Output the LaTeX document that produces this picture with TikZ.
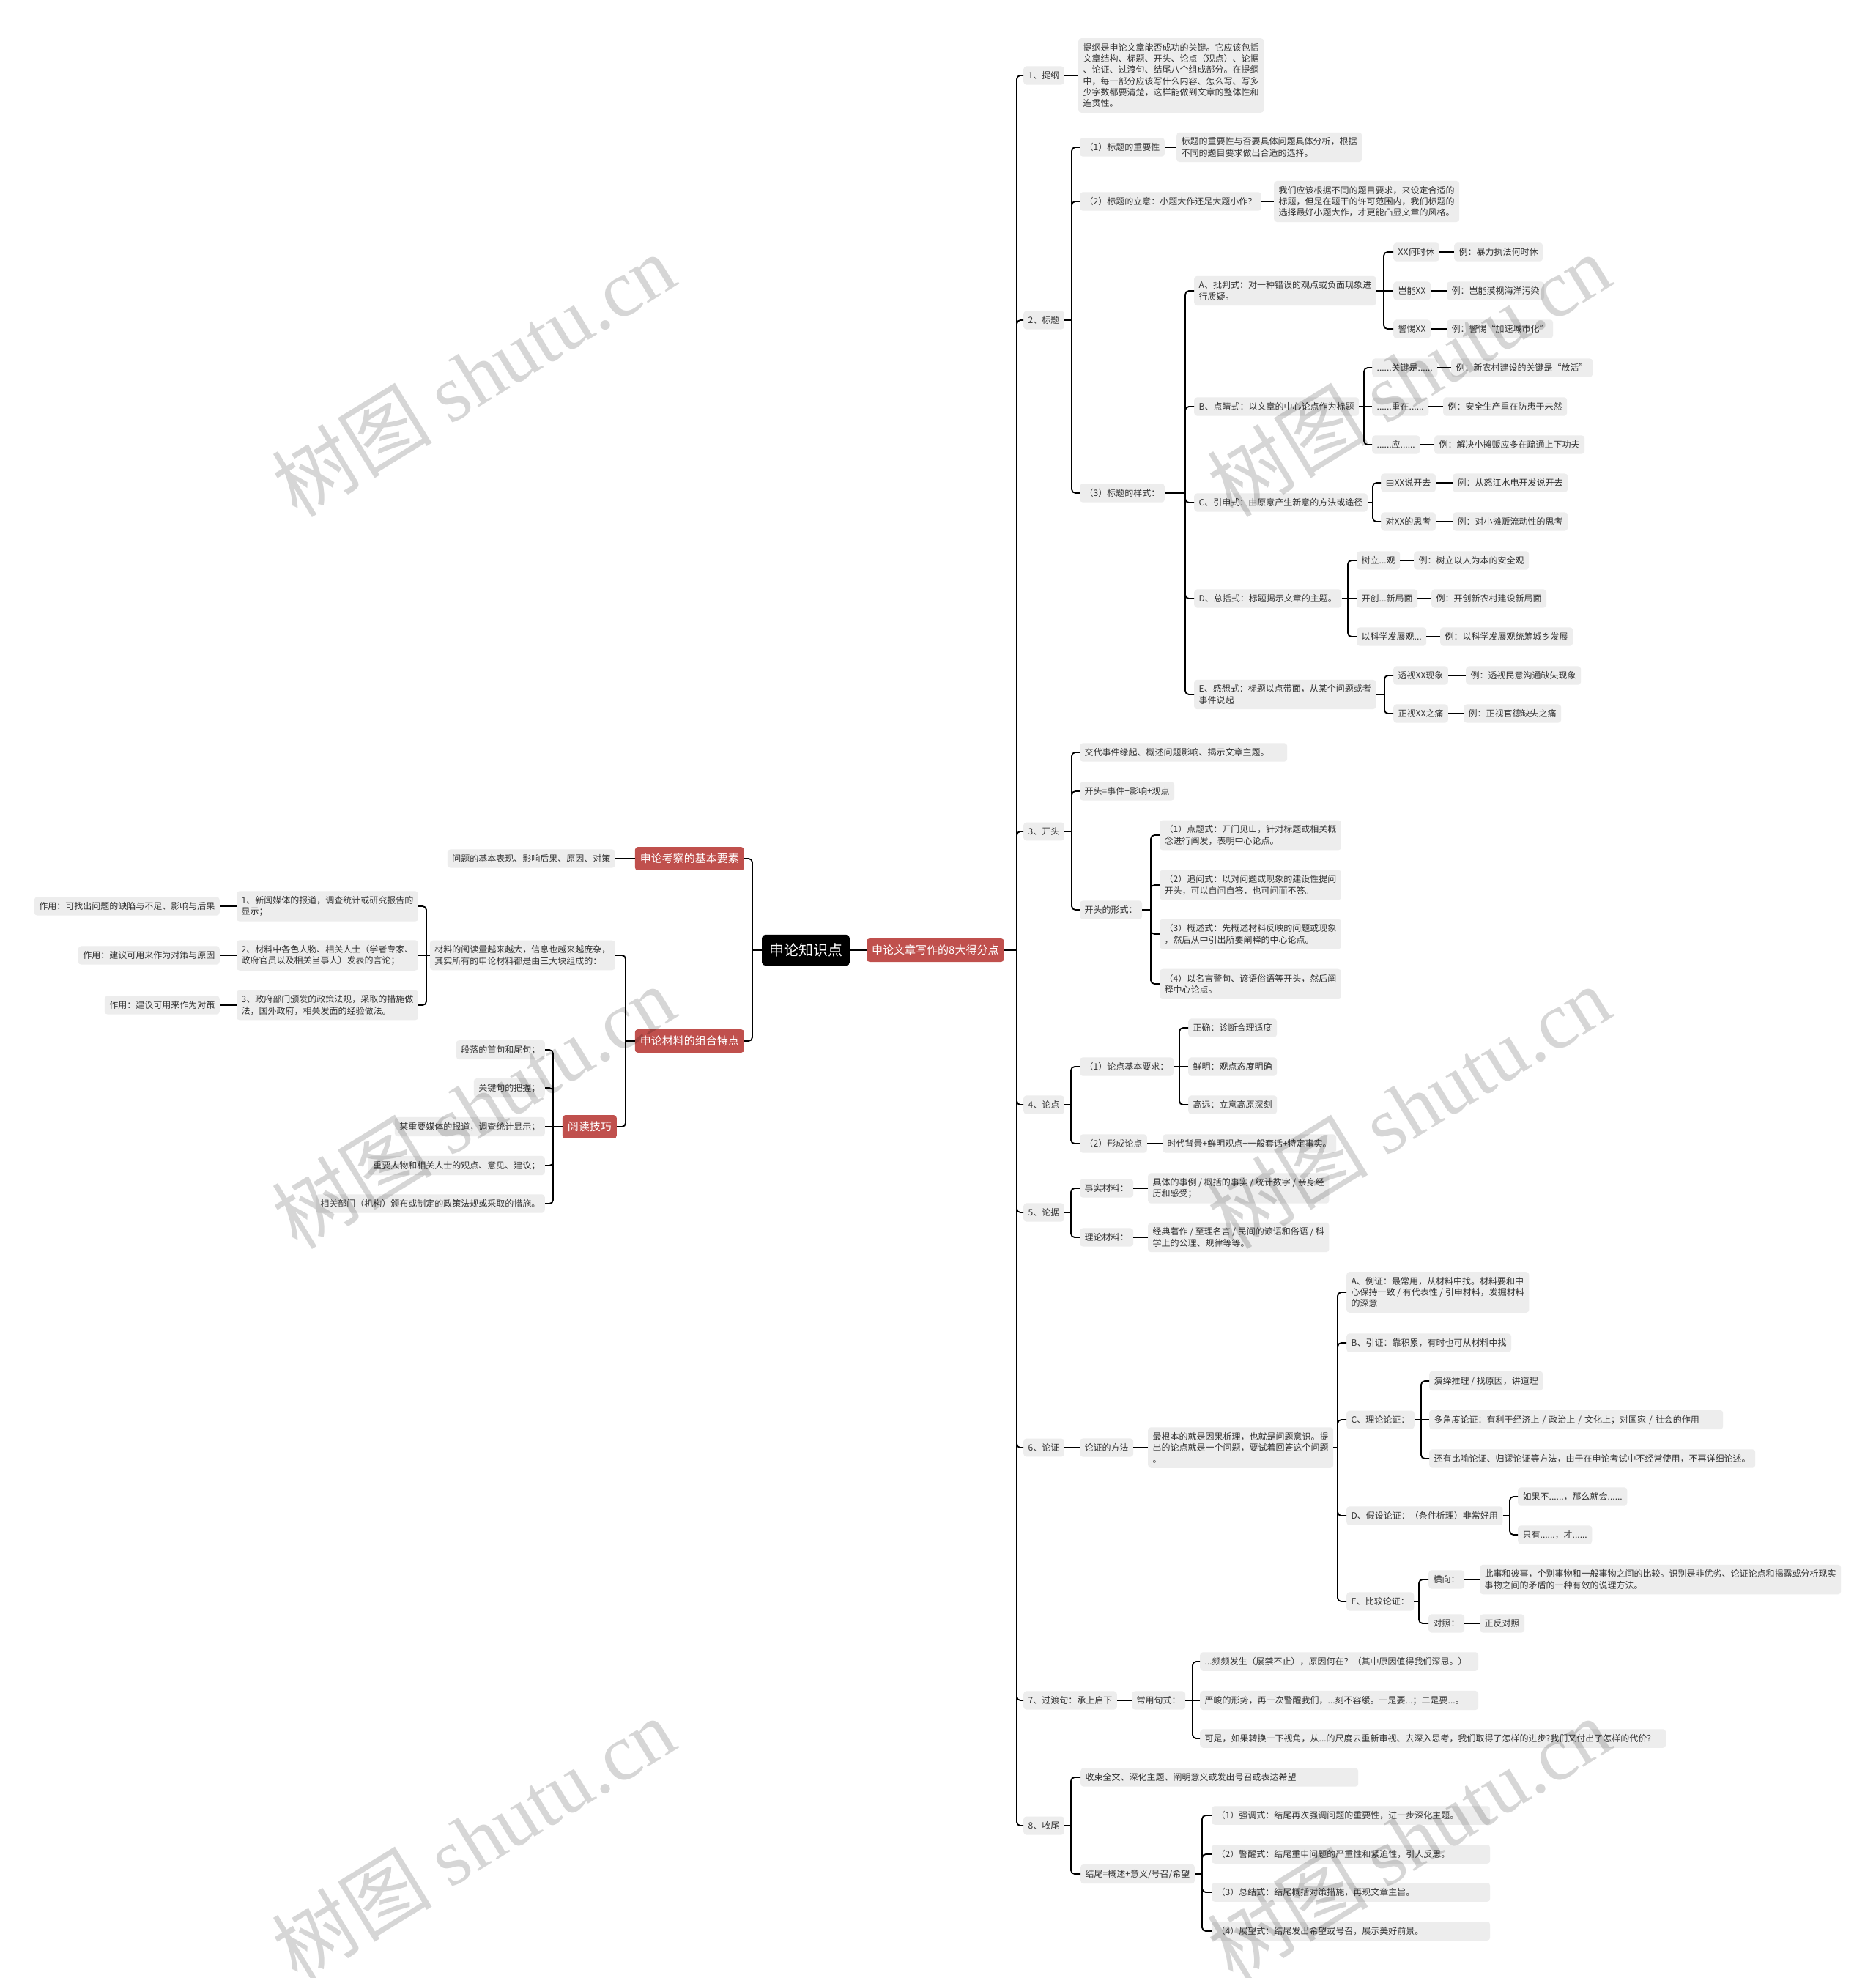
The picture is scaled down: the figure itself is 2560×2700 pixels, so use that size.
\documentclass[tikz,border=0pt]{standalone}
\usepackage{fontspec}
\setmainfont{Noto Sans CJK SC}
\newfontfamily\wmserif{Liberation Serif}
\definecolor{boxgray}{HTML}{EDEDED}
\definecolor{txt}{HTML}{333333}
\definecolor{mmred}{HTML}{C0504D}
\tikzset{
  box/.style={rectangle, rounded corners=4pt, fill=boxgray, text=txt, font=\fontsize{12}{15.3}\selectfont, inner xsep=6.5pt, inner ysep=7pt, align=left},
  bx/.style={box, anchor=west},
  bxl/.style={box, anchor=east},
  redbox/.style={rectangle, rounded corners=4pt, fill=mmred, text=white, font=\fontsize{15}{18}\selectfont, inner xsep=7pt, inner ysep=9pt},
  rootbox/.style={rectangle, rounded corners=5pt, fill=black, text=white, font=\fontsize{20}{24}\selectfont, inner xsep=10pt, inner ysep=12pt},
  conn/.style={draw=black, line width=1.8pt},
  wm/.style={text=black, opacity=0.16, font=\fontsize{110}{110}\selectfont, rotate=31.6}
}
\newcommand\stubR[2]{\coordinate (#1J) at (#2,0);\draw[conn] (#1.east) -- (#1.east -| #1J);}
\newcommand\kidR[2]{\draw[conn,rounded corners=5pt] (#1.east -| #1J) |- (#2.west);}
\newcommand\kidRs[2]{\draw[conn] (#1.east -| #1J) -- (#2.west);}
\newcommand\stubL[2]{\coordinate (#1J) at (#2,0);\draw[conn] (#1.west) -- (#1.west -| #1J);}
\newcommand\kidL[2]{\draw[conn,rounded corners=5pt] (#1.west -| #1J) |- (#2.east);}
\newcommand\kidLs[2]{\draw[conn] (#1.west -| #1J) -- (#2.east);}
\newcommand\mmlink[2]{\draw[conn] (#1.east) -- (#2.west);}
\newcommand\mmlinkL[2]{\draw[conn] (#1.west) -- (#2.east);}
\begin{document}
\begin{tikzpicture}[x=1pt,y=-1pt]
\useasboundingbox[fill=white] (0,0) rectangle (2560,2700);

% ---------- centre ----------
\node[rootbox] (C) at (1100,1297) {申论知识点};
\node[redbox, anchor=west] (R8) at (1183,1297) {申论文章写作的8大得分点};
\node[redbox, anchor=east] (LA) at (1016,1172) {申论考察的基本要素};
\node[redbox, anchor=east] (LB) at (1016,1421) {申论材料的组合特点};

% ---------- level 1 ----------
\node[bx] (L1) at (1397,103) {1、提纲};
\node[bx] (L2) at (1397,437) {2、标题};
\node[bx] (L3) at (1397,1135) {3、开头};
\node[bx] (L4) at (1397,1508) {4、论点};
\node[bx] (L5) at (1397,1655) {5、论据};
\node[bx] (L6) at (1397,1976) {6、论证};
\node[bx] (L7) at (1397,2321) {7、过渡句：承上启下};
\node[bx] (L8) at (1397,2492) {8、收尾};

% ---------- 1 ----------
\node[bx] (P1) at (1472,103) {提纲是申论文章能否成功的关键。它应该包括\\文章结构、标题、开头、论点（观点）、论据\\、论证、过渡句、结尾八个组成部分。在提纲\\中，每一部分应该写什么内容、怎么写、写多\\少字数都要清楚，这样能做到文章的整体性和\\连贯性。};

% ---------- 2 ----------
\node[bx] (T1) at (1474,201) {（1）标题的重要性};
\node[bx] (T1a) at (1606,201) {标题的重要性与否要具体问题具体分析，根据\\不同的题目要求做出合适的选择。};
\node[bx] (T2) at (1474,275) {（2）标题的立意：小题大作还是大题小作？};
\node[bx] (T2a) at (1739,275) {我们应该根据不同的题目要求，来设定合适的\\标题，但是在题干的许可范围内，我们标题的\\选择最好小题大作，才更能凸显文章的风格。};
\node[bx] (T3) at (1474,673) {（3）标题的样式：};

\node[bx] (TA) at (1630,397) {A、批判式：对一种错误的观点或负面现象进\\行质疑。};
\node[bx] (TA1) at (1902,344) {XX何时休};
\node[bx] (TA1x) at (1985,344) {例：暴力执法何时休};
\node[bx] (TA2) at (1902,397) {岂能XX};
\node[bx] (TA2x) at (1975,397) {例：岂能漠视海洋污染};
\node[bx] (TA3) at (1902,449) {警惕XX};
\node[bx] (TA3x) at (1975,449) {例：警惕“加速城市化”};

\node[bx] (TB) at (1630,555) {B、点睛式：以文章的中心论点作为标题};
\node[bx] (TB1) at (1873,502) {......关键是......};
\node[bx] (TB1x) at (1981,502) {例：新农村建设的关键是“放活”};
\node[bx] (TB2) at (1873,555) {......重在......};
\node[bx] (TB2x) at (1970,555) {例：安全生产重在防患于未然};
\node[bx] (TB3) at (1873,607) {......应......};
\node[bx] (TB3x) at (1958,607) {例：解决小摊贩应多在疏通上下功夫};

\node[bx] (TC) at (1630,686) {C、引申式：由原意产生新意的方法或途径};
\node[bx] (TC1) at (1885,659) {由XX说开去};
\node[bx] (TC1x) at (1983,659) {例：从怒江水电开发说开去};
\node[bx] (TC2) at (1885,712) {对XX的思考};
\node[bx] (TC2x) at (1983,712) {例：对小摊贩流动性的思考};

\node[bx] (TD) at (1630,817) {D、总括式：标题揭示文章的主题。};
\node[bx] (TD1) at (1852,765) {树立...观};
\node[bx] (TD1x) at (1930,765) {例：树立以人为本的安全观};
\node[bx] (TD2) at (1852,817) {开创...新局面};
\node[bx] (TD2x) at (1954,817) {例：开创新农村建设新局面};
\node[bx] (TD3) at (1852,869) {以科学发展观...};
\node[bx] (TD3x) at (1966,869) {例：以科学发展观统筹城乡发展};

\node[bx] (TE) at (1630,948) {E、感想式：标题以点带面，从某个问题或者\\事件说起};
\node[bx] (TE1) at (1902,922) {透视XX现象};
\node[bx] (TE1x) at (2001,922) {例：透视民意沟通缺失现象};
\node[bx] (TE2) at (1902,974) {正视XX之痛};
\node[bx] (TE2x) at (1998,974) {例：正视官德缺失之痛};

% ---------- 3 ----------
\node[bx, text width=270pt] (K1) at (1474,1027) {交代事件缘起、概述问题影响、揭示文章主题。};
\node[bx] (K2) at (1474,1080) {开头=事件+影响+观点};
\node[bx] (K3) at (1474,1242) {开头的形式：};
\node[bx] (K3a) at (1583,1140) {（1）点题式：开门见山，针对标题或相关概\\念进行阐发，表明中心论点。};
\node[bx] (K3b) at (1583,1208) {（2）追问式：以对问题或现象的建设性提问\\开头，可以自问自答，也可问而不答。};
\node[bx] (K3c) at (1583,1275) {（3）概述式：先概述材料反映的问题或现象\\，然后从中引出所要阐释的中心论点。};
\node[bx] (K3d) at (1583,1343) {（4）以名言警句、谚语俗语等开头，然后阐\\释中心论点。};

% ---------- 4 ----------
\node[bx] (N1) at (1474,1456) {（1）论点基本要求：};
\node[bx] (N1a) at (1622,1403) {正确：诊断合理适度};
\node[bx] (N1b) at (1622,1456) {鲜明：观点态度明确};
\node[bx] (N1c) at (1622,1508) {高远：立意高原深刻};
\node[bx] (N2) at (1474,1561) {（2）形成论点};
\node[bx] (N2x) at (1587,1561) {时代背景+鲜明观点+一般套话+特定事实。};

% ---------- 5 ----------
\node[bx] (M1) at (1474,1622) {事实材料：};
\node[bx] (M1x) at (1567,1622) {具体的事例 / 概括的事实 / 统计数字 / 亲身经\\历和感受；};
\node[bx] (M2) at (1474,1689) {理论材料：};
\node[bx] (M2x) at (1567,1689) {经典著作 / 至理名言 / 民间的谚语和俗语 / 科\\学上的公理、规律等等。};

% ---------- 6 ----------
\node[bx] (G1) at (1474,1976) {论证的方法};
\node[bx] (G2) at (1567,1976) {最根本的就是因果析理，也就是问题意识。提\\出的论点就是一个问题，要试着回答这个问题\\。};
\node[bx] (GA) at (1838,1764) {A、例证：最常用，从材料中找。材料要和中\\心保持一致 / 有代表性 / 引申材料，发掘材料\\的深意};
\node[bx] (GB) at (1838,1833) {B、引证：靠积累，有时也可从材料中找};
\node[bx] (GC) at (1838,1938) {C、理论论证：};
\node[bx] (GC1) at (1951,1885) {演绎推理 / 找原因，讲道理};
\node[bx, text width=388pt] (GC2) at (1951,1938) {多角度论证：有利于经济上 / 政治上 / 文化上；对国家 / 社会的作用};
\node[bx, text width=432pt] (GC3) at (1951,1991) {还有比喻论证、归谬论证等方法，由于在申论考试中不经常使用，不再详细论述。};
\node[bx] (GD) at (1838,2069) {D、假设论证：（条件析理）非常好用};
\node[bx] (GD1) at (2072,2043) {如果不......，那么就会......};
\node[bx] (GD2) at (2072,2095) {只有......，才......};
\node[bx] (GE) at (1838,2186) {E、比较论证：};
\node[bx] (GE1) at (1950,2156) {横向：};
\node[bx] (GE1x) at (2020,2156) {此事和彼事，个别事物和一般事物之间的比较。识别是非优劣、论证论点和揭露或分析现实\\事物之间的矛盾的一种有效的说理方法。};
\node[bx] (GE2) at (1950,2216) {对照：};
\node[bx] (GE2x) at (2020,2216) {正反对照};

% ---------- 7 ----------
\node[bx] (H1) at (1545,2321) {常用句式：};
\node[bx, text width=367pt] (H1a) at (1638,2268) {...频频发生（屡禁不止），原因何在？（其中原因值得我们深思。）};
\node[bx, text width=367pt] (H1b) at (1638,2321) {严峻的形势，再一次警醒我们，...刻不容缓。一是要...；二是要...。};
\node[bx, text width=623pt] (H1c) at (1638,2373) {可是，如果转换一下视角，从...的尺度去重新审视、去深入思考，我们取得了怎样的进步?我们又付出了怎样的代价?};

% ---------- 8 ----------
\node[bx, text width=366pt] (S1) at (1475,2426) {收束全文、深化主题、阐明意义或发出号召或表达希望};
\node[bx] (S2) at (1475,2558) {结尾=概述+意义/号召/希望};
\node[bx, text width=367pt] (S2a) at (1654,2478) {（1）强调式：结尾再次强调问题的重要性，进一步深化主题。};
\node[bx, text width=367pt] (S2b) at (1654,2531) {（2）警醒式：结尾重申问题的严重性和紧迫性，引人反思。};
\node[bx, text width=367pt] (S2c) at (1654,2583) {（3）总结式：结尾概括对策措施，再现文章主旨。};
\node[bx, text width=367pt] (S2d) at (1654,2636) {（4）展望式：结尾发出希望或号召，展示美好前景。};

% ---------- left side ----------
\node[bxl] (LAx) at (840,1172) {问题的基本表现、影响后果、原因、对策};
\node[bxl] (LB1) at (840,1304) {材料的阅读量越来越大，信息也越来越庞杂，\\其实所有的申论材料都是由三大块组成的：};
\node[bxl] (Q1) at (571,1237) {1、新闻媒体的报道，调查统计或研究报告的\\显示；};
\node[bxl] (Q1x) at (300,1237) {作用：可找出问题的缺陷与不足、影响与后果};
\node[bxl] (Q2) at (571,1304) {2、材料中各色人物、相关人士（学者专家、\\政府官员以及相关当事人）发表的言论；};
\node[bxl] (Q2x) at (300,1304) {作用：建议可用来作为对策与原因};
\node[bxl] (Q3) at (571,1372) {3、政府部门颁发的政策法规，采取的措施做\\法，国外政府，相关发面的经验做法。};
\node[bxl] (Q3x) at (300,1372) {作用：建议可用来作为对策};
\node[redbox, anchor=east] (LB2) at (842,1538) {阅读技巧};
\node[bxl] (R1) at (744,1433) {段落的首句和尾句；};
\node[bxl] (R2) at (744,1485) {关键句的把握；};
\node[bxl] (R3) at (744,1538) {某重要媒体的报道，调查统计显示；};
\node[bxl] (R4) at (744,1591) {重要人物和相关人士的观点、意见、建议；};
\node[bxl] (R5) at (744,1643) {相关部门（机构）颁布或制定的政策法规或采取的措施。};

% ---------- connectors ----------
\mmlink{C}{R8}
\stubR{R8}{1388}
\kidR{R8}{L1}\kidR{R8}{L2}\kidR{R8}{L3}\kidR{R8}{L4}
\kidR{R8}{L5}\kidR{R8}{L6}\kidR{R8}{L7}\kidR{R8}{L8}

\mmlink{L1}{P1}
\stubR{L2}{1463}\kidR{L2}{T1}\kidR{L2}{T2}\kidR{L2}{T3}
\mmlink{T1}{T1a}\mmlink{T2}{T2a}
\stubR{T3}{1618}\kidR{T3}{TA}\kidR{T3}{TB}\kidR{T3}{TC}\kidR{T3}{TD}\kidR{T3}{TE}
\stubR{TA}{1889}\kidR{TA}{TA1}\kidRs{TA}{TA2}\kidR{TA}{TA3}
\mmlink{TA1}{TA1x}\mmlink{TA2}{TA2x}\mmlink{TA3}{TA3x}
\stubR{TB}{1862}\kidR{TB}{TB1}\kidRs{TB}{TB2}\kidR{TB}{TB3}
\mmlink{TB1}{TB1x}\mmlink{TB2}{TB2x}\mmlink{TB3}{TB3x}
\stubR{TC}{1874}\kidR{TC}{TC1}\kidR{TC}{TC2}
\mmlink{TC1}{TC1x}\mmlink{TC2}{TC2x}
\stubR{TD}{1840}\kidR{TD}{TD1}\kidRs{TD}{TD2}\kidR{TD}{TD3}
\mmlink{TD1}{TD1x}\mmlink{TD2}{TD2x}\mmlink{TD3}{TD3x}
\stubR{TE}{1890}\kidR{TE}{TE1}\kidR{TE}{TE2}
\mmlink{TE1}{TE1x}\mmlink{TE2}{TE2x}

\stubR{L3}{1463}\kidR{L3}{K1}\kidR{L3}{K2}\kidR{L3}{K3}
\stubR{K3}{1571}\kidR{K3}{K3a}\kidR{K3}{K3b}\kidR{K3}{K3c}\kidR{K3}{K3d}

\stubR{L4}{1462}\kidR{L4}{N1}\kidR{L4}{N2}
\stubR{N1}{1610}\kidR{N1}{N1a}\kidRs{N1}{N1b}\kidR{N1}{N1c}
\mmlink{N2}{N2x}

\stubR{L5}{1462}\kidR{L5}{M1}\kidR{L5}{M2}
\mmlink{M1}{M1x}\mmlink{M2}{M2x}

\mmlink{L6}{G1}\mmlink{G1}{G2}
\stubR{G2}{1826}\kidR{G2}{GA}\kidR{G2}{GB}\kidR{G2}{GC}\kidR{G2}{GD}\kidR{G2}{GE}
\stubR{GC}{1940}\kidR{GC}{GC1}\kidRs{GC}{GC2}\kidR{GC}{GC3}
\stubR{GD}{2061}\kidR{GD}{GD1}\kidR{GD}{GD2}
\stubR{GE}{1937}\kidR{GE}{GE1}\kidR{GE}{GE2}
\mmlink{GE1}{GE1x}\mmlink{GE2}{GE2x}

\mmlink{L7}{H1}
\stubR{H1}{1628}\kidR{H1}{H1a}\kidRs{H1}{H1b}\kidR{H1}{H1c}

\stubR{L8}{1462}\kidR{L8}{S1}\kidR{L8}{S2}
\stubR{S2}{1641}\kidR{S2}{S2a}\kidR{S2}{S2b}\kidR{S2}{S2c}\kidR{S2}{S2d}

\stubL{C}{1027}\kidL{C}{LA}\kidL{C}{LB}
\mmlinkL{LA}{LAx}
\stubL{LB}{854}\kidL{LB}{LB1}\kidL{LB}{LB2}
\stubL{LB1}{582}\kidL{LB1}{Q1}\kidLs{LB1}{Q2}\kidL{LB1}{Q3}
\mmlinkL{Q1}{Q1x}\mmlinkL{Q2}{Q2x}\mmlinkL{Q3}{Q3x}
\stubL{LB2}{755}\kidL{LB2}{R1}\kidL{LB2}{R2}\kidLs{LB2}{R3}\kidL{LB2}{R4}\kidL{LB2}{R5}

% ---------- watermark ----------
\node[wm] (wm1) at (646,512) {树图 {\wmserif shutu.cn}};
\node[wm] (wm2) at (1923,512) {树图 {\wmserif shutu.cn}};
\node[wm] (wm3) at (646,1511) {树图 {\wmserif shutu.cn}};
\node[wm] (wm4) at (1923,1511) {树图 {\wmserif shutu.cn}};
\node[wm] (wm5) at (646,2510) {树图 {\wmserif shutu.cn}};
\node[wm] (wm6) at (1923,2510) {树图 {\wmserif shutu.cn}};
\end{tikzpicture}
\end{document}
